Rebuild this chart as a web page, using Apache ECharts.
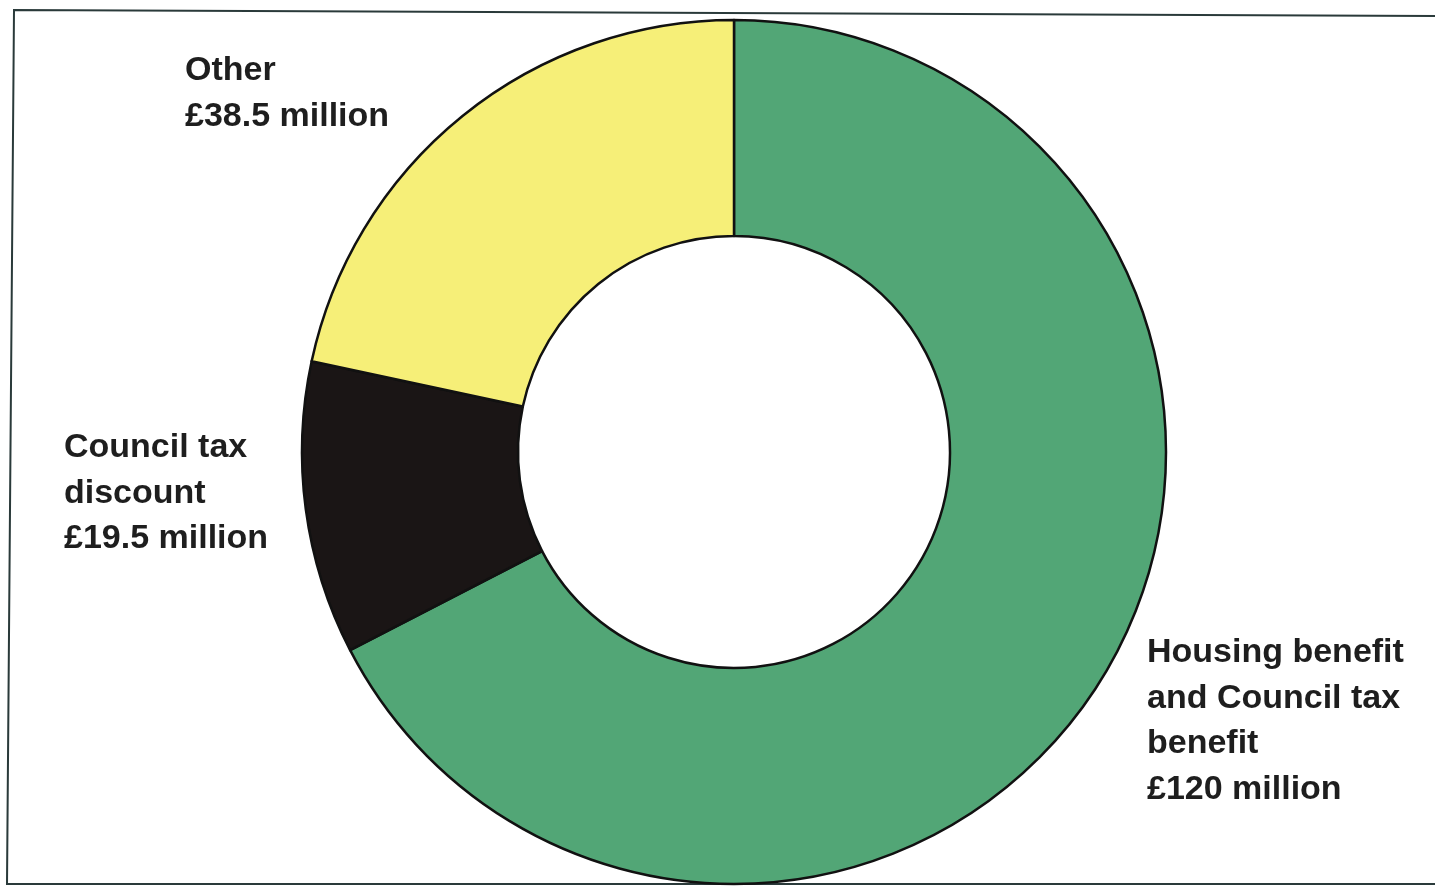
<!DOCTYPE html>
<html>
<head>
<meta charset="utf-8">
<script src="https://cdn.jsdelivr.net/npm/echarts@6/dist/echarts.min.js"></script>
<style>
html,body{margin:0;padding:0;background:#fff;}
#chart{width:1435px;height:887px;}
</style>
</head>
<body>
<div id="chart"></div>
<script>
const categories = ['Housing benefit and Council tax benefit', 'Council tax discount', 'Other'];
const values = [120, 19.5, 38.5];
const labelTexts = [
  'Housing benefit\nand Council tax\nbenefit\n£120 million',
  'Council tax\ndiscount\n£19.5 million',
  'Other\n£38.5 million'
];
const colors = ['#52a676', '#1a1515', '#f6ef78'];

const chart = echarts.init(document.getElementById('chart'));
const labelPos = [[1147, 630], [64, 425], [185, 48]];

const option = {
  backgroundColor: '#ffffff',
  animation: false,
  graphic: [
    {
      type: 'polyline',
      shape: { points: [[1440, 16], [14, 10], [7, 884], [1440, 884]] },
      style: { stroke: '#2a3a3a', lineWidth: 2, fill: null },
      z: 0
    }
  ].concat(labelTexts.map((t, i) => ({
    type: 'text',
    left: labelPos[i][0],
    top: labelPos[i][1],
    style: {
      text: t,
      fontFamily: 'Liberation Sans',
      fontWeight: 'bold',
      fontSize: 34,
      fill: '#1e1e1e',
      lineHeight: 45.5
    },
    z: 10
  }))),
  series: [{
    type: 'pie',
    center: [734, 452],
    radius: [216, 432],
    startAngle: 90,
    clockwise: true,
    label: { show: false },
    labelLine: { show: false },
    emphasis: { disabled: true },
    itemStyle: { borderColor: '#111', borderWidth: 2.5 },
    data: categories.map((c, i) => ({
      name: c,
      value: values[i],
      itemStyle: { color: colors[i] }
    }))
  }]
};
chart.setOption(option);
</script>
</body>
</html>
